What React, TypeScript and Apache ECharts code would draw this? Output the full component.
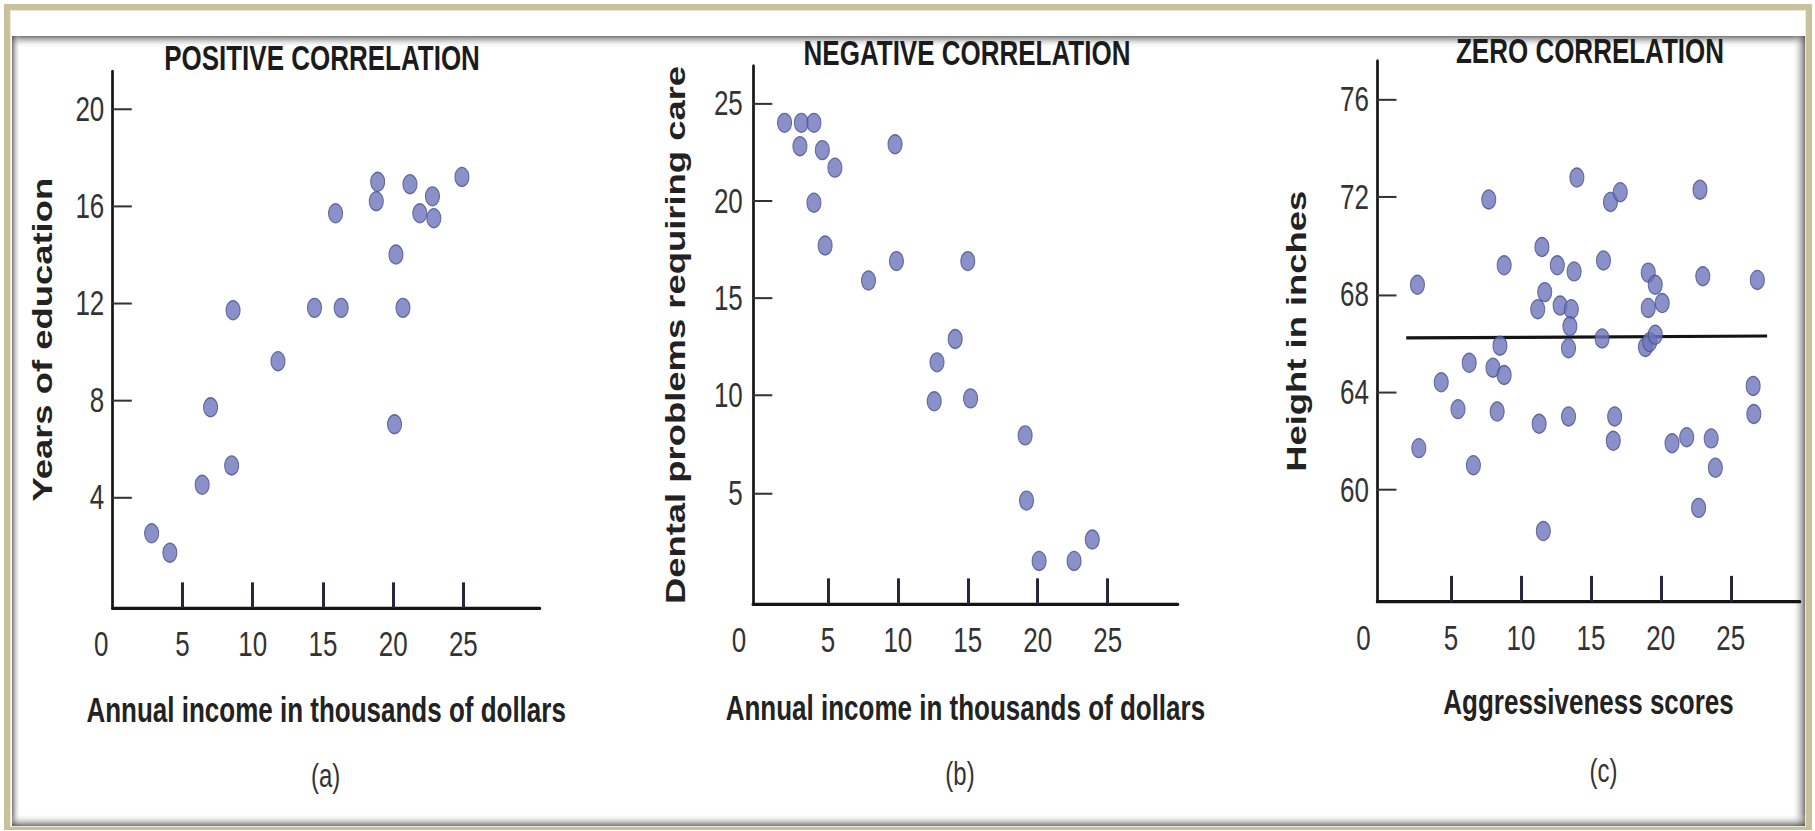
import React, { useEffect, useRef } from "react";
import * as echarts from "echarts";

// ---------- data ----------
const xTickValues = [5, 10, 15, 20, 25];
const xLabelValues = [0, 5, 10, 15, 20, 25];

const posTicks = [4, 8, 12, 16, 20];
const posIncome = [2.8, 4.1, 6.4, 7.0, 8.5, 8.6, 11.8, 14.4, 16.3, 15.9, 18.8, 18.9, 20.2, 20.1, 20.7, 21.2, 21.9, 22.8, 22.9, 24.9];
const posEducation = [2.5, 1.7, 4.5, 7.7, 5.3, 11.7, 9.6, 11.8, 11.8, 15.7, 16.2, 17.0, 14.0, 7.0, 11.8, 16.9, 15.7, 16.4, 15.5, 17.2];

const negTicks = [5, 10, 15, 20, 25];
const negIncome = [1.9, 3.1, 4.0, 3.0, 4.6, 5.5, 4.0, 4.8, 9.8, 7.9, 9.9, 15.0, 14.1, 12.8, 12.6, 15.2, 19.1, 19.2, 20.1, 22.6, 23.9];
const negDental = [24.0, 24.0, 24.0, 22.8, 22.6, 21.7, 19.9, 17.7, 22.9, 15.9, 16.9, 16.9, 12.9, 11.7, 9.7, 9.85, 7.95, 4.6, 1.5, 1.5, 2.6];

const zeroTicks = [60, 64, 68, 72, 76];
const zeroAggr = [2.6, 2.7, 4.3, 5.5, 6.3, 6.6, 7.7, 8.0, 8.5, 8.8, 8.3, 8.8, 11.5, 11.7, 11.2, 11.3, 11.6, 12.6, 12.8, 13.6, 13.5, 13.4, 13.8, 13.4, 14.0, 15.8, 15.9, 16.4, 17.1, 16.7, 16.6, 19.1, 19.6, 19.1, 20.1, 18.9, 19.2, 19.6, 20.8, 21.85, 22.8, 23.0, 22.7, 23.6, 23.9, 26.6, 26.65, 26.9];
const zeroHeight = [68.4, 61.7, 64.4, 63.3, 65.2, 61.0, 71.9, 65.0, 65.9, 64.7, 63.2, 69.2, 69.95, 68.1, 67.4, 62.7, 58.3, 69.2, 67.55, 67.4, 66.7, 65.8, 68.95, 63.0, 72.8, 66.2, 69.4, 71.8, 72.2, 63.0, 62.0, 68.9, 68.4, 67.45, 67.65, 65.85, 66.05, 66.35, 61.9, 62.15, 72.3, 68.75, 59.25, 62.1, 60.9, 64.25, 63.1, 68.6];
const zeroLineX = [1.8, 27.6];
const zeroLineY = [66.22, 66.3];

const titles = ["POSITIVE CORRELATION", "NEGATIVE CORRELATION", "ZERO CORRELATION"];
const xNames = ["Annual income in thousands of dollars", "Annual income in thousands of dollars", "Aggressiveness scores"];
const yNames = ["Years of education", "Dental problems requiring care", "Height in inches"];
const captions = ["(a)", "(b)", "(c)"];

// ---------- layout ----------
const H = 616;
const S = 831 / H;
const Y = (v: number) => v / S;
const FONT = "'Liberation Sans', Arial, Helvetica, sans-serif";
const DOT = "#6d74ba";
const DOT_BORDER = "#474d8e";
const INK = "#141414";

const panels = [
  { left: 112.3, width: 427.7, top: 71.5, bottom: 608, xMin: 0, xMax: 30.46, yMin: -0.58, yMax: 21.55, yTicks: posTicks, yMargin: 8, zeroPad: 22, yGap: 55.8, xGap: 62.9, titleX: 322, titleY: 58, capX: 325.6, capY: 776 },
  { left: 752.8, width: 425.2, top: 66, bottom: 604, xMin: -0.37, xMax: 30.03, yMin: -0.71, yMax: 26.92, yTicks: negTicks, yMargin: 10, zeroPad: 38, yGap: 63.7, xGap: 64.1, titleX: 967, titleY: 53.5, capX: 960, capY: 774 },
  { left: 1377, width: 423, top: 61, bottom: 601.5, xMin: -0.29, xMax: 29.95, yMin: 55.41, yMax: 77.58, yTicks: zeroTicks, yMargin: 8, zeroPad: 35, yGap: 66.7, xGap: 61.7, titleX: 1590, titleY: 51, capX: 1603.5, capY: 771 },
];

function buildOption() {
  const grid = panels.map((p) => ({
    left: p.left,
    width: p.width,
    top: Y(p.top),
    height: Y(p.bottom) - Y(p.top),
  }));

  // main x axes: line, labels, name
  const mainX = panels.map((p, i) => ({
    type: "value",
    gridIndex: i,
    position: "bottom",
    min: p.xMin,
    max: p.xMax,
    name: xNames[i],
    nameLocation: "middle",
    nameGap: p.xGap,
    nameTextStyle: { fontFamily: FONT, fontWeight: "bold", fontSize: 26, lineHeight: 26, color: "#222" },
    axisLine: { show: true, onZero: false, lineStyle: { color: INK, width: 2.4 } },
    axisTick: { show: false },
    axisLabel: {
      show: true,
      margin: 14,
      customValues: xLabelValues,
      fontFamily: FONT,
      fontSize: 26,
      color: "#333",
      formatter: (v: number) => (v === 0 ? "{z|0}" : String(v)),
      rich: { z: { fontFamily: FONT, fontSize: 26, color: "#333", padding: [0, p.zeroPad, 0, 0] } },
    },
    splitLine: { show: false },
  }));

  // tick-only x axes sharing the same scale, for the inward tick marks
  const tickX = panels.map((p, i) => ({
    type: "value",
    gridIndex: i,
    position: "bottom",
    min: p.xMin,
    max: p.xMax,
    axisLine: { show: false, onZero: false },
    axisTick: { show: true, inside: true, length: 19, customValues: xTickValues, lineStyle: { color: "#26263c", width: 3 } },
    axisLabel: { show: false },
    splitLine: { show: false },
  }));

  const yAxis = panels.map((p, i) => ({
    type: "value",
    gridIndex: i,
    min: p.yMin,
    max: p.yMax,
    name: yNames[i],
    nameLocation: "middle",
    nameGap: p.yGap,
    nameTextStyle: { fontFamily: FONT, fontWeight: "bold", fontSize: 27, lineHeight: 27, color: "#222" },
    axisLine: { show: true, onZero: false, lineStyle: { color: INK, width: 2.7 } },
    axisTick: { show: true, inside: true, length: 19.5, customValues: p.yTicks, lineStyle: { color: "#333", width: 1.5 } },
    axisLabel: { show: true, margin: p.yMargin, customValues: p.yTicks, fontFamily: FONT, fontSize: 26, color: "#333" },
    splitLine: { show: false },
  }));

  const dotStyle = { color: DOT, borderColor: DOT_BORDER, borderWidth: 1 };
  const series: any[] = [
    { type: "scatter", xAxisIndex: 0, yAxisIndex: 0, symbolSize: 14, itemStyle: dotStyle, data: posIncome.map((x, k) => [x, posEducation[k]]), z: 3 },
    { type: "scatter", xAxisIndex: 1, yAxisIndex: 1, symbolSize: 14, itemStyle: dotStyle, data: negIncome.map((x, k) => [x, negDental[k]]), z: 3 },
    { type: "line", xAxisIndex: 2, yAxisIndex: 2, symbol: "none", lineStyle: { color: INK, width: 2.4 }, data: zeroLineX.map((x, k) => [x, zeroLineY[k]]), z: 2 },
    { type: "scatter", xAxisIndex: 2, yAxisIndex: 2, symbolSize: 14, itemStyle: dotStyle, data: zeroAggr.map((x, k) => [x, zeroHeight[k]]), z: 3 },
  ];

  const title = panels.map((p, i) => ({
    text: titles[i],
    left: p.titleX,
    top: Y(p.titleY) - 13,
    textAlign: "center",
    padding: 0,
    textStyle: { fontFamily: FONT, fontWeight: "bold", fontSize: 26, lineHeight: 26, color: "#1b1b1b" },
  }));

  const shade = "rgba(70,70,70,0.75)";
  const clear = "rgba(255,255,255,0)";
  const lin = (x2: number, y2: number, a: string, b: string) => ({
    type: "linear", x: 0, y: 0, x2, y2,
    colorStops: [{ offset: 0, color: a }, { offset: 1, color: b }],
  });

  const graphic: any[] = [
    { type: "rect", z: -20, shape: { x: 4, y: Y(4), width: 1808, height: Y(826) }, style: { fill: "#c8c19b" }, silent: true },
    { type: "rect", z: -19, shape: { x: 10, y: Y(10), width: 1796, height: Y(817) }, style: { fill: "#ece9d9" }, silent: true },
    { type: "rect", z: -18, shape: { x: 11, y: Y(11), width: 1794, height: Y(815) }, style: { fill: "#ffffff" }, silent: true },
    { type: "rect", z: -17, shape: { x: 12, y: Y(36), width: 1793, height: Y(12) }, style: { fill: lin(0, 1, shade, clear) }, silent: true },
    { type: "rect", z: -17, shape: { x: 12, y: Y(36), width: 9, height: Y(790) }, style: { fill: lin(1, 0, shade, clear) }, silent: true },
    { type: "rect", z: -17, shape: { x: 1792, y: Y(36), width: 13, height: Y(790) }, style: { fill: lin(1, 0, clear, shade) }, silent: true },
    { type: "rect", z: -17, shape: { x: 12, y: Y(814), width: 1793, height: Y(12) }, style: { fill: lin(0, 1, clear, shade) }, silent: true },
    ...panels.map((p, i) => ({
      type: "text",
      x: p.capX,
      y: Y(p.capY),
      z: 5,
      style: { text: captions[i], fontFamily: FONT, fontSize: 24, fill: "#333", align: "center", verticalAlign: "middle" },
    })),
  ];

  return {
    animation: false,
    backgroundColor: "#ffffff",
    title,
    grid,
    xAxis: [...mainX, ...tickX],
    yAxis,
    series,
    graphic,
  };
}

export default function App() {
  const ref = useRef<HTMLDivElement>(null);
  useEffect(() => {
    if (!ref.current) return;
    const chart = echarts.init(ref.current, null, { renderer: "svg" });
    chart.setOption(buildOption() as any);
    return () => chart.dispose();
  }, []);
  return (
    <div
      ref={ref}
      style={{
        position: "fixed",
        left: 0,
        top: 0,
        width: 1815,
        height: H,
        transform: `scaleY(${S})`,
        transformOrigin: "0 0",
      }}
    />
  );
}
